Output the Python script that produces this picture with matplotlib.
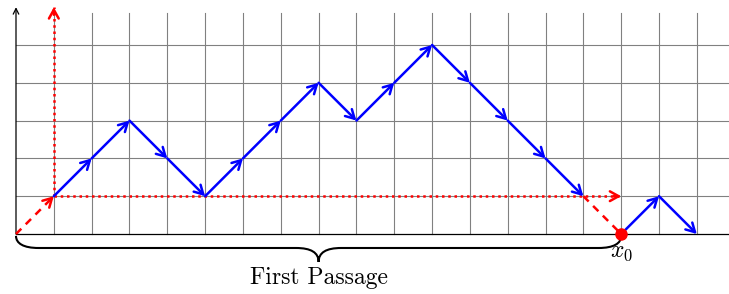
import matplotlib.pyplot as plt
from matplotlib.path import Path
from matplotlib.patches import PathPatch

plt.rcParams["mathtext.fontset"] = "cm"

# walk before first passage (starts after the first dashed step)
walk_x = [1, 2, 3, 4, 5, 6, 7, 8, 9, 10, 11, 12, 13, 14, 15]
walk_y = [1, 2, 3, 2, 1, 2, 3, 4, 3, 4, 5, 4, 3, 2, 1]
# walk after hitting x0
tail_x = [16, 17, 18]
tail_y = [0, 1, 0]
x0 = 16
brace_label = "First Passage"

fig = plt.figure(figsize=(7.29, 2.94), dpi=100)
ax = fig.add_axes([0, 0, 1, 1])
ax.set_xlim(-0.423, 18.85)
ax.set_ylim(-1.587, 6.19)
ax.axis("off")

# grid
for gx in range(1, 19):
    ax.plot([gx, gx], [0, 5.85], color="#808080", lw=0.8, zorder=1)
for gy in range(1, 6):
    ax.plot([0, 18.85], [gy, gy], color="#808080", lw=0.8, zorder=1)

# axes
ax.plot([0, 18.85], [0, 0], color="black", lw=0.9, zorder=2)
ax.annotate("", xy=(0, 6.0), xytext=(0, 0),
            arrowprops=dict(arrowstyle="->", color="black", lw=0.9,
                            shrinkA=0, shrinkB=0, mutation_scale=10))

red = "#ff0000"
blue = "#0000ff"

def step_arrow(p, q, color, ls="-", lw=1.8):
    if ls != "-":
        # styled shaft, solid head
        ax.plot([p[0], q[0]], [p[1], q[1]], color=color, lw=lw, ls=ls, zorder=4)
        f = 0.02
        p = (q[0] - f * (q[0] - p[0]) / max(abs(q[0] - p[0]) + abs(q[1] - p[1]), 1e-9) * 10,
             q[1] - f * (q[1] - p[1]) / max(abs(q[0] - p[0]) + abs(q[1] - p[1]), 1e-9) * 10)
    ax.annotate("", xy=q, xytext=p,
                arrowprops=dict(arrowstyle="->,head_length=0.45,head_width=0.25",
                                color=color, lw=lw,
                                shrinkA=0, shrinkB=0, mutation_scale=14),
                zorder=4)

# red dashed first step and red dotted guides
step_arrow((0, 0), (walk_x[0], walk_y[0]), red, ls=(0, (3, 2.5)))
step_arrow((walk_x[0], walk_y[0]), (walk_x[0], 6.0), red, ls=(0, (1, 1.5)))
step_arrow((walk_x[0], walk_y[0]), (x0, walk_y[0]), red, ls=(0, (1, 1.5)))
ax.plot([walk_x[-1], x0], [walk_y[-1], 0], color=red, lw=1.8,
        ls=(0, (3, 2.5)), zorder=3)

# blue walk
for i in range(len(walk_x) - 1):
    step_arrow((walk_x[i], walk_y[i]), (walk_x[i + 1], walk_y[i + 1]), blue)
for i in range(len(tail_x) - 1):
    step_arrow((tail_x[i], tail_y[i]), (tail_x[i + 1], tail_y[i + 1]), blue)

ax.plot([x0], [0], "o", color=red, ms=8, zorder=5)
ax.text(x0, -0.12, r"$x_0$", ha="center", va="top", fontsize=17, zorder=5)

# brace under the first passage
mid = x0 / 2
yt, yb, ytip = -0.05, -0.37, -0.74
verts = [(0, yt), (0, yb + 0.12), (0.2, yb), (0.6, yb),
         (mid - 0.6, yb),
         (mid - 0.2, yb), (mid, yb - 0.12), (mid, ytip),
         (mid, yb - 0.12), (mid + 0.2, yb), (mid + 0.6, yb),
         (x0 - 0.6, yb),
         (x0 - 0.2, yb), (x0, yb + 0.12), (x0, yt)]
codes = [Path.MOVETO, Path.CURVE4, Path.CURVE4, Path.CURVE4,
         Path.LINETO,
         Path.CURVE4, Path.CURVE4, Path.CURVE4,
         Path.CURVE4, Path.CURVE4, Path.CURVE4,
         Path.LINETO,
         Path.CURVE4, Path.CURVE4, Path.CURVE4]
ax.add_patch(PathPatch(Path(verts, codes), fc="none", ec="black", lw=1.5, zorder=3))
ax.text(mid, -0.87, brace_label, ha="center", va="top", fontsize=17,
        family="cmr10")

fig.savefig("out.png", dpi=100)
